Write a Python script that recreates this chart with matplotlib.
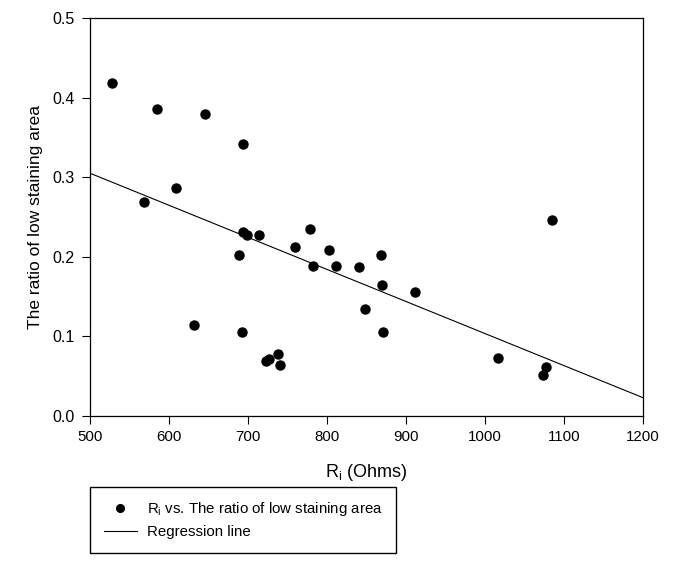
import numpy as np
import matplotlib
matplotlib.use("Agg")
import matplotlib.pyplot as plt

plt.rcParams['font.family'] = ['Liberation Sans', 'DejaVu Sans']
plt.rcParams['mathtext.default'] = 'regular'

# Ri (Ohms) vs. ratio of low staining area
ri = [528, 585, 646, 694, 609, 568,
      694, 699, 714, 688, 779, 759, 802, 782, 812, 841, 868, 869, 911,
      848, 632, 693, 871, 738, 727, 723, 740,
      1085, 1077, 1073, 1016]
ratio = [0.418, 0.386, 0.379, 0.342, 0.286, 0.269,
         0.231, 0.228, 0.227, 0.202, 0.235, 0.212, 0.209, 0.188, 0.189, 0.187, 0.202, 0.165, 0.156,
         0.135, 0.114, 0.105, 0.105, 0.078, 0.072, 0.069, 0.064,
         0.246, 0.062, 0.052, 0.073]

# regression line end points
reg_x = [500, 1200]
reg_y = [0.305, 0.023]

x_ticks = [500, 600, 700, 800, 900, 1000, 1100, 1200]
y_ticks = [0.0, 0.1, 0.2, 0.3, 0.4, 0.5]

fig = plt.figure(figsize=(6.85, 5.72), dpi=100)
ax = fig.add_axes([90 / 685, 1 - 416 / 572, (643 - 90) / 685, (416 - 18) / 572])

pts, = ax.plot(ri, ratio, 'o', color='black', markersize=6.5, linestyle='none', clip_on=False)
reg, = ax.plot(reg_x, reg_y, color='black', linewidth=0.8)

ax.set_xlim(500, 1200)
ax.set_ylim(0.0, 0.5)
ax.set_xticks(x_ticks)
ax.set_yticks(y_ticks)
ax.set_yticklabels(['{:.1f}'.format(v) for v in y_ticks])
ax.tick_params(direction='out', length=6, width=0.8)
ax.tick_params(axis='x', labelsize=10.8, pad=4)
ax.tick_params(axis='y', labelsize=11.5, pad=5)
for s in ax.spines.values():
    s.set_linewidth(0.9)

ax.set_xlabel('R$_i$ (Ohms)', fontsize=13, labelpad=13)
ax.set_ylabel('The ratio of low staining area', fontsize=12.5, labelpad=7)

leg = fig.legend([pts, reg], ['R$_i$ vs. The ratio of low staining area', 'Regression line'],
                 loc='upper left', bbox_to_anchor=(90 / 685, 1 - 487 / 572),
                 fontsize=10.8, frameon=True, fancybox=False, edgecolor='black',
                 framealpha=1, handlelength=2.2, handletextpad=0.7,
                 borderpad=0.9, labelspacing=0.45, borderaxespad=0,
                 markerscale=0.85)
leg.get_frame().set_linewidth(1.0)

fig.savefig('out.png', dpi=100)
